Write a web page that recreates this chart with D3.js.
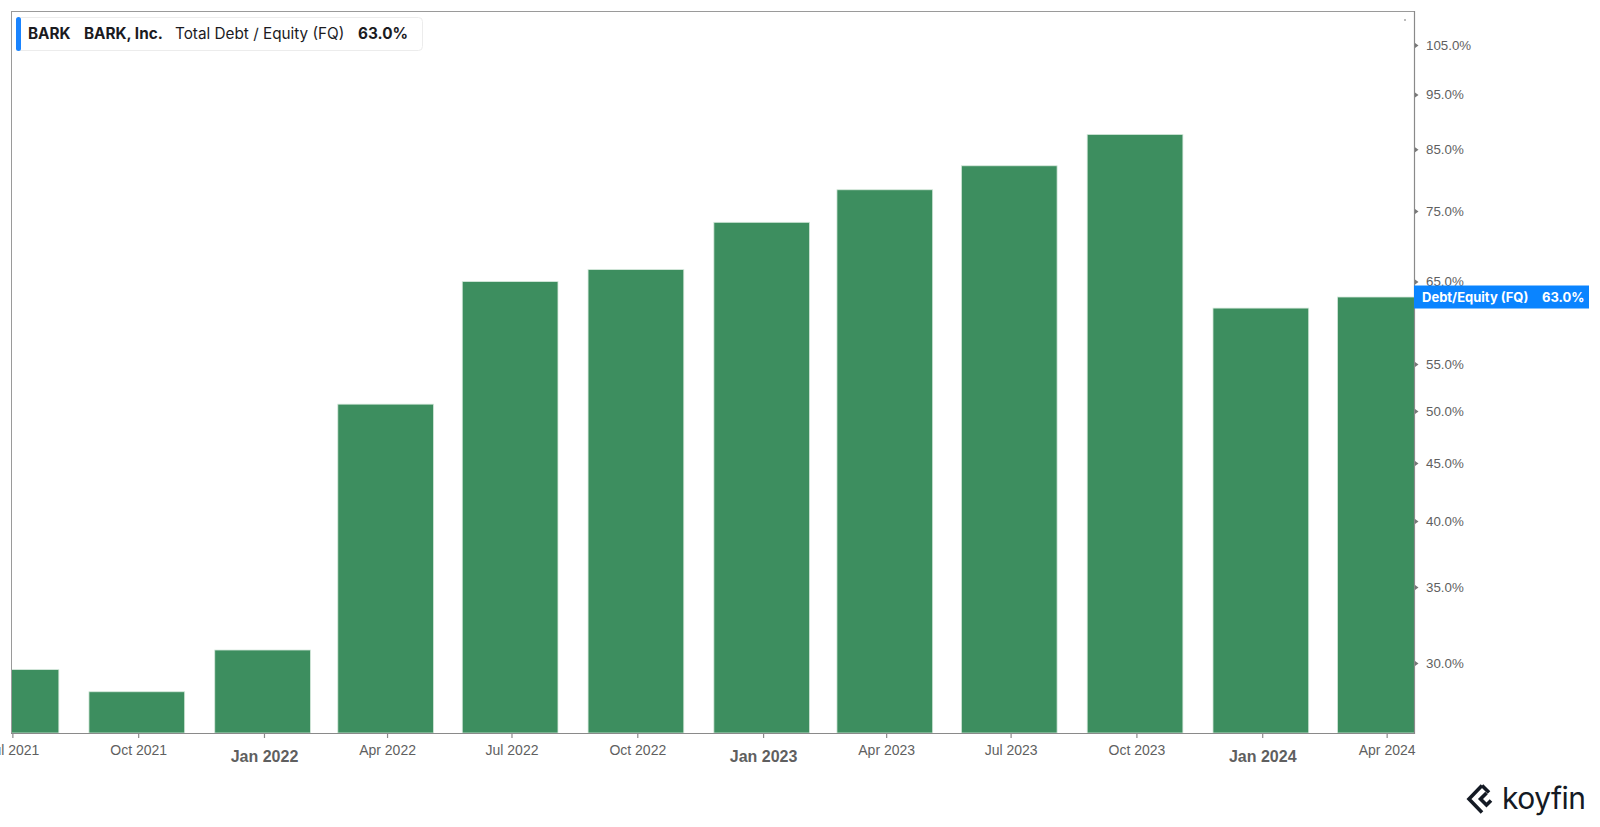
<!DOCTYPE html>
<html>
<head>
<meta charset="utf-8">
<script src="https://cdn.jsdelivr.net/npm/d3@7"></script>
<style>
  html, body { margin: 0; padding: 0; background: #ffffff; }
  svg { display: block; font-family: Inter, "Noto Sans", "DejaVu Sans", sans-serif; }
</style>
</head>
<body>
<svg id="chart" width="1600" height="827"></svg>
<script>
// ---- data ----
const periodEnds = ["2021-06-30","2021-09-30","2021-12-31","2022-03-31","2022-06-30","2022-09-30",
                    "2022-12-31","2023-03-31","2023-06-30","2023-09-30","2023-12-31","2024-03-31"];
const debtToEquity = [29.6, 28.3, 30.8, 50.7, 65.0, 66.6, 73.3, 78.3, 82.2, 87.6, 61.6, 63.0];
const yTickValues = [30, 35, 40, 45, 50, 55, 65, 75, 85, 95, 105];
const xTickDates = ["2021-07-01","2021-10-01","2022-01-01","2022-04-01","2022-07-01","2022-10-01",
                    "2023-01-01","2023-04-01","2023-07-01","2023-10-01","2024-01-01","2024-04-01"];
const xTickLabels = ["Jul 2021","Oct 2021","Jan 2022","Apr 2022","Jul 2022","Oct 2022",
                     "Jan 2023","Apr 2023","Jul 2023","Oct 2023","Jan 2024","Apr 2024"];
const ticker = "BARK";
const company = "BARK, Inc.";
const metric = "Total Debt / Equity (FQ)";
const lastLabel = "Debt/Equity (FQ)";

// ---- layout ----
const plot = { left: 11, top: 11, right: 1414, bottom: 733 };
const parse = d3.timeParse("%Y-%m-%d");
const svg = d3.select("#chart");

const x = d3.scaleTime()
  .domain([parse("2021-06-30"), parse("2024-04-21")])
  .range([plot.left, plot.right]);
const y = d3.scaleLog()
  .domain([26.03, 112.5])
  .range([plot.bottom, plot.top]);

const fmt = v => v.toFixed(1) + "%";

// clip
svg.append("defs").append("clipPath").attr("id", "plotclip")
  .append("rect").attr("x", plot.left).attr("y", plot.top)
  .attr("width", plot.right - plot.left).attr("height", plot.bottom - plot.top);

// bars
const halfW = 35 * 24 * 3600 * 1000; // ~35 days each side
const bars = periodEnds.map((d, i) => ({ date: parse(d), value: debtToEquity[i] }));
svg.append("g").attr("clip-path", "url(#plotclip)")
  .selectAll("rect").data(bars).join("rect")
  .attr("x", d => x(new Date(+d.date - halfW)))
  .attr("width", d => x(new Date(+d.date + halfW)) - x(new Date(+d.date - halfW)))
  .attr("y", d => y(d.value))
  .attr("height", d => plot.bottom - y(d.value))
  .attr("fill", "#3d8e5f")
  .attr("stroke", "#d6e9dc")
  .attr("stroke-width", 0.8);

// plot frame
svg.append("line").attr("x1", plot.left + 0.5).attr("x2", plot.left + 0.5)
  .attr("y1", plot.top).attr("y2", plot.bottom).attr("stroke", "#9a9a9a").attr("stroke-width", 1);
svg.append("line").attr("x1", plot.left).attr("x2", plot.right)
  .attr("y1", plot.top + 0.5).attr("y2", plot.top + 0.5).attr("stroke", "#9a9a9a").attr("stroke-width", 1);
svg.append("line").attr("x1", plot.right + 0.5).attr("x2", plot.right + 0.5)
  .attr("y1", plot.top).attr("y2", plot.bottom + 1).attr("stroke", "#8a8a8a").attr("stroke-width", 1.2);
svg.append("line").attr("x1", plot.left).attr("x2", plot.right)
  .attr("y1", plot.bottom + 0.5).attr("y2", plot.bottom + 0.5).attr("stroke", "#8a8a8a").attr("stroke-width", 1.2);

// small dot in top-right corner
svg.append("circle").attr("cx", plot.right - 9).attr("cy", 20).attr("r", 0.8).attr("fill", "#666");

// y axis (right)
const yAxis = d3.axisRight(y).tickValues(yTickValues).tickSize(0).tickPadding(12).tickFormat(fmt);
const gy = svg.append("g").attr("transform", `translate(${plot.right},0)`).call(yAxis);
gy.select(".domain").remove();
gy.selectAll("text").attr("fill", "#5f5f5f").attr("font-size", 13.3);
gy.selectAll(".tick").append("path")
  .attr("d", "M1,-2.5 L4.5,0 L1,2.5 Z").attr("fill", "#777");

// x axis (bottom)
const isJan = i => xTickLabels[i].startsWith("Jan");
const xTicks = xTickDates.map(parse);
const xAxis = d3.axisBottom(x).tickValues(xTicks).tickSize(5).tickPadding(8)
  .tickFormat((d, i) => xTickLabels[i]);
const gx = svg.append("g").attr("transform", `translate(0,${plot.bottom})`).call(xAxis);
gx.select(".domain").remove();
gx.selectAll(".tick line").attr("stroke", "#8a8a8a").attr("stroke-width", 1.2);
gx.selectAll("text")
  .attr("fill", "#5f5f5f")
  .attr("font-size", (d, i) => isJan(i) ? 16 : 14)
  .attr("font-weight", (d, i) => isJan(i) ? 700 : 400)
  .attr("dy", (d, i) => isJan(i) ? "0.98em" : "0.66em");

// last-value label on the right axis
const lastVal = debtToEquity[debtToEquity.length - 1];
const ly = y(lastVal);
svg.append("rect").attr("x", plot.right).attr("y", ly - 11.5).attr("width", 175).attr("height", 23)
  .attr("fill", "#0a84ff");
svg.append("text").attr("x", plot.right + 8).attr("y", ly + 4.5)
  .attr("fill", "#fff").attr("font-size", 13).attr("font-weight", 700).text(lastLabel);
svg.append("text").attr("x", plot.right + 128).attr("y", ly + 4.5)
  .attr("fill", "#fff").attr("font-size", 13).attr("font-weight", 700).text(fmt(lastVal));

// legend box
const lg = svg.append("g");
lg.append("rect").attr("x", 16.5).attr("y", 17.5).attr("width", 406).attr("height", 33).attr("rx", 4)
  .attr("fill", "#fff").attr("stroke", "#ececec");
lg.append("rect").attr("x", 16).attr("y", 17).attr("width", 5).attr("height", 34).attr("rx", 2.5)
  .attr("fill", "#1a84ff");
const legendItems = [
  { t: ticker, x: 28, w: 700 },
  { t: company, x: 84, w: 700 },
  { t: metric, x: 175, w: 400 },
  { t: fmt(lastVal), x: 358, w: 700 }
];
lg.selectAll("text.leg").data(legendItems).join("text").attr("class", "leg")
  .attr("x", d => d.x).attr("y", 39).attr("font-size", 15.3).attr("font-weight", d => d.w)
  .attr("fill", "#1b1b1f").text(d => d.t);

// koyfin logo
const logo = svg.append("g").attr("transform", "translate(1466,784)");
logo.append("path")
  .attr("d", "M16,1.5 L3,15 L16,28.5 M16,1.5 L23,8.5 M20.5,9 L14.5,15 L20.5,21 L25,16.5")
  .attr("fill", "none").attr("stroke", "#141a24").attr("stroke-width", 3.6)
  .attr("stroke-linejoin", "miter").attr("stroke-linecap", "butt");
logo.append("text").attr("x", 36).attr("y", 24.5).attr("font-size", 30).attr("font-weight", 400)
  .attr("fill", "#141a24").attr("letter-spacing", -0.5).text("koyfin");
</script>
</body>
</html>
